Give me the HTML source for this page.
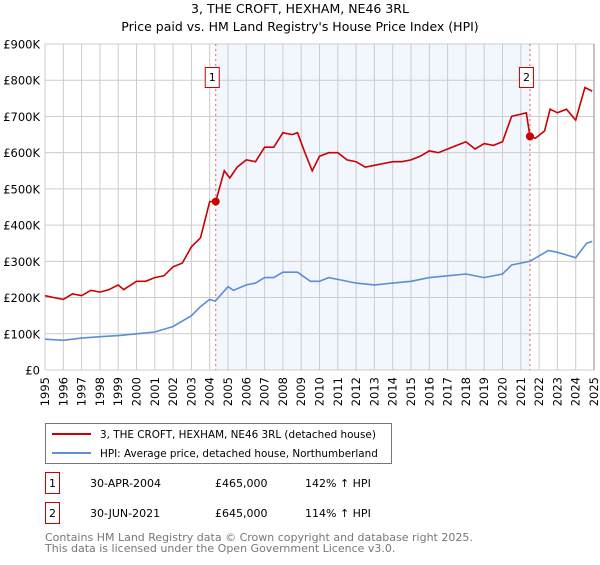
<!DOCTYPE html>
<html><head><meta charset="utf-8"><style>
body{margin:0;background:#fff;font-family:"Liberation Sans","DejaVu Sans",sans-serif;}
svg text{font-family:"DejaVu Sans","Liberation Sans",sans-serif;}
</style></head><body>
<svg id="c" width="600" height="560" xmlns="http://www.w3.org/2000/svg">
<text x="300" y="13" text-anchor="middle" font-size="12.5">3, THE CROFT, HEXHAM, NE46 3RL</text>
<text x="300" y="31" text-anchor="middle" font-size="12.5">Price paid vs. HM Land Registry's House Price Index (HPI)</text>
<g id="plot"></g>
<g>
<rect x="45.5" y="423.5" width="346" height="40" fill="#fff" stroke="#777"/>
<line x1="52" y1="434" x2="91" y2="434" stroke="#cc0000" stroke-width="2"/>
<text x="100" y="438" font-size="10.4">3, THE CROFT, HEXHAM, NE46 3RL (detached house)</text>
<line x1="52" y1="453" x2="91" y2="453" stroke="#5b8fd6" stroke-width="2"/>
<text x="100" y="457" font-size="10.4">HPI: Average price, detached house, Northumberland</text>
</g>
<g font-size="11">
<rect x="45.5" y="472.5" width="14" height="21" fill="#fff" stroke="#cc0000"/>
<text x="52.5" y="487" text-anchor="middle">1</text>
<text x="90" y="487">30-APR-2004</text><text x="215" y="487">£465,000</text><text x="305" y="487">142% ↑ HPI</text>
<rect x="45.5" y="502.5" width="14" height="21" fill="#fff" stroke="#cc0000"/>
<text x="52.5" y="517" text-anchor="middle">2</text>
<text x="90" y="517">30-JUN-2021</text><text x="215" y="517">£645,000</text><text x="305" y="517">114% ↑ HPI</text>
</g>
<text x="45" y="541" font-size="11" fill="#777">Contains HM Land Registry data © Crown copyright and database right 2025.</text>
<text x="45" y="552" font-size="11" fill="#777">This data is licensed under the Open Government Licence v3.0.</text>
</svg>
<script>
const yTicks=[0,100,200,300,400,500,600,700,800,900];
const yTickLabels=["£0","£100K","£200K","£300K","£400K","£500K","£600K","£700K","£800K","£900K"];
const years=[1995,1996,1997,1998,1999,2000,2001,2002,2003,2004,2005,2006,2007,2008,2009,2010,2011,2012,2013,2014,2015,2016,2017,2018,2019,2020,2021,2022,2023,2024,2025];
const priceT=[1995,1995.5,1996,1996.5,1997,1997.5,1998,1998.5,1999,1999.3,2000,2000.5,2001,2001.5,2002,2002.5,2003,2003.5,2004,2004.33,2004.8,2005.1,2005.5,2006,2006.5,2007,2007.5,2008,2008.5,2008.8,2009.2,2009.6,2010,2010.5,2011,2011.5,2012,2012.5,2013,2013.5,2014,2014.5,2015,2015.5,2016,2016.5,2017,2017.5,2018,2018.5,2019,2019.5,2020,2020.5,2021.3,2021.5,2021.8,2022.3,2022.6,2023,2023.5,2024,2024.5,2024.9];
const priceV=[205,200,195,210,205,220,215,222,235,222,245,245,255,260,285,295,340,365,465,465,550,530,560,580,575,615,615,655,650,655,600,550,590,600,600,580,575,560,565,570,575,575,580,590,605,600,610,620,630,610,625,620,630,700,710,645,640,660,720,710,720,690,780,770];
const hpiT=[1995,1996,1997,1998,1999,2000,2001,2002,2003,2003.5,2004,2004.3,2005,2005.3,2006,2006.5,2007,2007.5,2008,2008.8,2009.5,2010,2010.5,2011,2012,2013,2014,2015,2016,2017,2018,2019,2020,2020.5,2021.5,2022.5,2023,2024,2024.6,2024.9];
const hpiV=[85,82,88,92,95,100,105,120,150,175,195,190,230,220,235,240,255,255,270,270,245,245,255,250,240,235,240,245,255,260,265,255,265,290,300,330,325,310,350,355];
const saleT=[2004.33,2021.5];
const saleV=[465,645];
const saleLabels=["1","2"];
const X0=45,X1=594,Y0=370,Y1=44;
const x=t=>X0+(t-1995)/30*(X1-X0);
const y=v=>Y0-v/900*(Y0-Y1);
const NS="http://www.w3.org/2000/svg";
const g=document.getElementById('plot');
function mk(tag,a,parent){const e=document.createElementNS(NS,tag);for(const k in a)e.setAttribute(k,a[k]);(parent||g).appendChild(e);return e;}
let e=mk('rect',{x:x(saleT[0]),y:Y1,width:x(saleT[1])-x(saleT[0]),height:Y0-Y1,fill:'#f2f6fd'});


years.forEach(t=>{const l=mk('line',{x1:x(t),x2:x(t),y1:Y1,y2:Y0,stroke:'#ccc'});


const tx=mk('text',{transform:`translate(${x(t)+4},377) rotate(-90)`,'text-anchor':'end','font-size':'11.5'});tx.textContent=t;

});
yTicks.forEach((v,i)=>{const l=mk('line',{x1:X0,x2:X1,y1:y(v),y2:y(v),stroke:'#ccc'});


const tx=mk('text',{x:40,y:y(v)+4.5,'text-anchor':'end','font-size':'11.5'});tx.textContent=yTickLabels[i];

});
e=mk('line',{x1:X1,x2:X1,y1:Y1,y2:Y0,stroke:'#888'});


saleT.forEach((t,i)=>{const l=mk('line',{x1:x(t),x2:x(t),y1:Y1,y2:Y0,stroke:'#e06060','stroke-dasharray':'2,3'});


const r=mk('rect',{x:x(t)-10.5,y:67.5,width:14,height:20,fill:'#fff',stroke:'#cc0000'});


const tx=mk('text',{x:x(t)-3.5,y:81,'text-anchor':'middle','font-size':'11'});tx.textContent=saleLabels[i];

});
const path=(T,V)=>T.map((t,i)=>(i?'L':'M')+x(t).toFixed(1)+','+y(V[i]).toFixed(1)).join('');
e=mk('path',{d:path(hpiT,hpiV),fill:'none',stroke:'#5b8fd6','stroke-width':1.6});


e=mk('path',{d:path(priceT,priceV),fill:'none',stroke:'#cc0000','stroke-width':1.6});


saleT.forEach((t,i)=>{const c=mk('circle',{cx:x(t),cy:y(saleV[i]),r:4,fill:'#cc0000'});

});
</script>
</body></html>
